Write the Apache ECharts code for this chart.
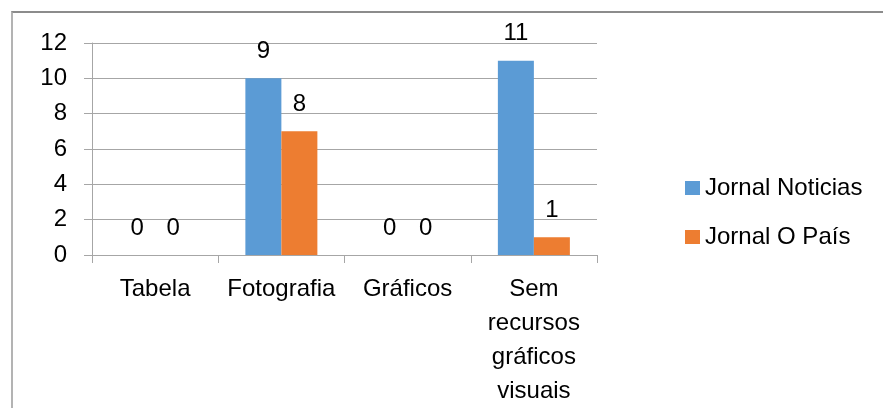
<!DOCTYPE html>
<html>
<head>
<meta charset="utf-8">
<script src="https://cdn.jsdelivr.net/npm/echarts@6/dist/echarts.min.js"></script>
<style>
html,body{margin:0;padding:0;background:#fff;overflow:hidden;}
#chart{width:883px;height:408px;position:absolute;left:0;top:0;}
#frame{position:absolute;left:11px;top:11px;width:1000px;height:1000px;border-left:2px solid #b3b3b3;border-top:2px solid #8c8c8c;pointer-events:none;box-sizing:border-box;}
</style>
</head>
<body>
<div id="chart"></div>
<div id="frame"></div>
<script>
const categories = ['Tabela', 'Fotografia', 'Gráficos', 'Sem recursos gráficos visuais'];
const seriesNames = ['Jornal Noticias', 'Jornal O País'];
const noticiasValues = [0, 10, 0, 11];
const paisValues = [0, 7, 0, 1];
const noticiasLabels = ['0', '9', '0', '11'];
const paisLabels = ['0', '8', '0', '1'];
const yTicks = [0, 2, 4, 6, 8, 10, 12];

const FONT = 'Liberation Sans';
const TXT = '#000';
const GRID = '#a6a6a6';
const FS = 24;

const chart = echarts.init(document.getElementById('chart'), null, {renderer: 'canvas'});
chart.setOption({
  animation: false,
  backgroundColor: '#fff',
  grid: {left: 92, right: 286, top: 43, bottom: 152, containLabel: false},
  legend: {
    orient: 'vertical',
    left: 685,
    top: 176,
    padding: 0,
    itemWidth: 15,
    itemHeight: 14,
    itemGap: 25,
    icon: 'rect',
    textStyle: {fontFamily: FONT, fontSize: FS, color: TXT, lineHeight: 24},
    data: seriesNames
  },
  xAxis: {
    type: 'category',
    data: categories,
    axisLine: {show: true, lineStyle: {color: GRID, width: 1}},
    axisTick: {show: true, length: 8, lineStyle: {color: GRID}},
    axisLabel: {
      fontFamily: FONT, fontSize: FS, color: TXT, lineHeight: 34, margin: 17,
      interval: 0,
      formatter: v => v.replace(/ /g, '\n')
    }
  },
  yAxis: {
    type: 'value',
    min: yTicks[0],
    max: yTicks[yTicks.length - 1],
    interval: 2,
    axisLine: {show: true, lineStyle: {color: GRID, width: 1}},
    axisTick: {show: true, length: 8, lineStyle: {color: GRID}},
    splitLine: {show: true, lineStyle: {color: GRID, width: 1}},
    axisLabel: {fontFamily: FONT, fontSize: FS, color: TXT, margin: 25}
  },
  series: [
    {
      name: seriesNames[0],
      type: 'bar',
      data: noticiasValues,
      barWidth: 36,
      barGap: '0%',
      itemStyle: {color: '#5B9BD5'},
      label: {
        show: true, position: 'top', distance: 15,
        fontFamily: FONT, fontSize: FS, color: TXT,
        formatter: p => noticiasLabels[p.dataIndex]
      }
    },
    {
      name: seriesNames[1],
      type: 'bar',
      data: paisValues,
      barWidth: 36,
      barGap: '0%',
      itemStyle: {color: '#ED7D31'},
      label: {
        show: true, position: 'top', distance: 15,
        fontFamily: FONT, fontSize: FS, color: TXT,
        formatter: p => paisLabels[p.dataIndex]
      }
    }
  ]
});
</script>
</body>
</html>
